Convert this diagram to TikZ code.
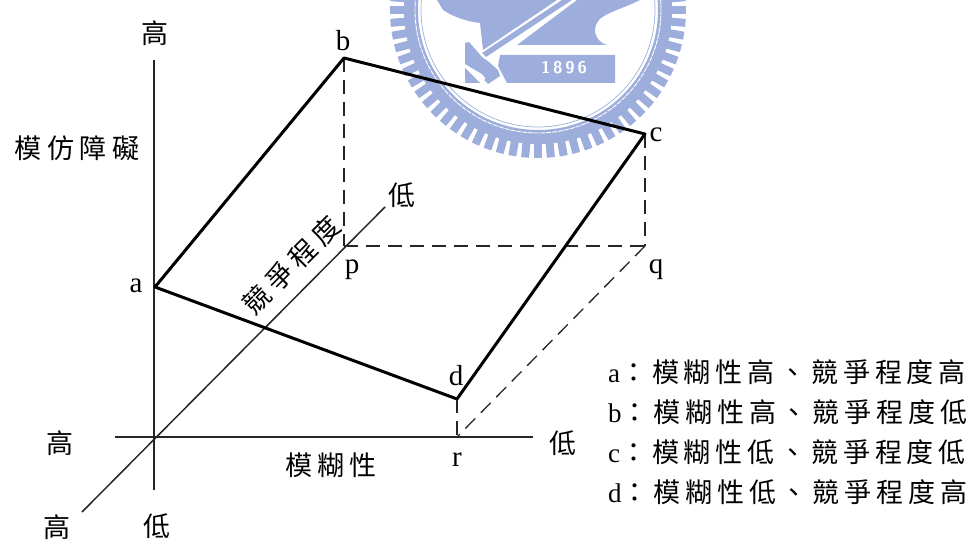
\documentclass[tikz,border=0pt]{standalone}
\usepackage{fontspec}
\setmainfont{Liberation Serif}
\newfontfamily\cjk[LetterSpace=20]{Noto Sans CJK TC}
\newfontfamily\cjkwide[LetterSpace=18]{Noto Sans CJK TC}
\usetikzlibrary{positioning}
\definecolor{crest}{HTML}{9DAEDC}
\tikzset{
  lbl/.style={font=\fontsize{29}{30}\selectfont,inner sep=0pt},
  zh/.style={font=\fontsize{27}{30}\selectfont\cjk,inner sep=0pt},
  legend/.style={anchor=west,font=\fontsize{27}{30}\selectfont\cjkwide,inner sep=0pt},
  axisline/.style={line width=1.5pt,color=black!85},
  face/.style={line width=3pt,line join=round},
  drop/.style={line width=1.3pt,dash pattern=on 14pt off 8pt,color=black!85}
}
\begin{document}
\begin{tikzpicture}[x=1pt,y=-1pt]
  \useasboundingbox (0,0) rectangle (977,540);
  % crest behind the diagram
  \begin{scope}
    \clip (0,0) rectangle (977,540);
    \foreach \t in {0,5,...,355} \draw[crest,line width=8pt] (538,10)++(\t:130) -- ++(\t:18);
    \draw[crest,line width=14pt] (538,10) circle (127);
    \draw[white,line width=.9pt,dash pattern=on 5pt off 1pt] (538,10) circle (123);
    \draw[crest,line width=.7pt] (538,10) circle (117);
    \fill[crest] (437,0) -- (443,10) .. controls (455,18) and (470,22) .. (480,23) -- (483,50) -- (557,0) -- cycle;
    \fill[crest] (562,0) -- (572,0) -- (486,57) -- (482,53) -- cycle;
    \fill[crest] (517,45) -- (577,0) -- (640,0) .. controls (625,8) and (600,14) .. (597,23)
      .. controls (592,32) and (597,42) .. (607,45) -- cycle;
    \fill[crest] (465,43) -- (469,42) -- (482,57) -- (489,62) -- (498,70) -- (500,76) -- (488,84) -- (484,80) -- (494,72) -- (486,79) -- (482,74) -- (465,64) -- cycle;
    \fill[crest] (465,68) -- (480,83) -- (465,83) -- cycle;
    \fill[crest] (500,55) -- (615,55) -- (615,83) -- (507,83) -- (498,66) -- cycle;
    \node[inner sep=0pt,text=white,font=\fontsize{17}{17}\selectfont\bfseries\sffamily] (year) at (564,68) {1\,8\,9\,6};
  \end{scope}
  % corner points
  \coordinate (o) at (154,437);
  \coordinate (a) at (155,287);
  \coordinate (b) at (344,58);
  \coordinate (c) at (645,134);
  \coordinate (d) at (457,399);
  \coordinate (p) at (344,246);
  \coordinate (q) at (645,246);
  \coordinate (r) at (457,437);
  \coordinate (vtop) at (154,60);
  \coordinate (vbot) at (154,490);
  \coordinate (hleft) at (115,437);
  \coordinate (hright) at (533,437);
  \coordinate (dlow) at (82,512);
  \coordinate (dhigh) at (385,207);
  % axes
  \draw[axisline] (vtop)--(vbot);
  \draw[axisline] (hleft)--(hright);
  \draw[axisline] (dlow)--(dhigh);
  % dashed projections
  \draw[drop] (b)--(p); \draw[drop] (c)--(q); \draw[drop] (d)--(r);
  \draw[drop] (p)--(q); \draw[drop] (q)--(r);
  % surface
  \draw[face] (a)--(b)--(c)--(d)--cycle;
  % labels
  \node[lbl] (la) at (136,286) {a};
  \node[lbl] (lb) at (343,41) {b};
  \node[lbl] (lc) at (656,135) {c};
  \node[lbl] (ld) at (456,376) {d};
  \node[lbl] (lp) at (352,270) {p};
  \node[lbl] (lq) at (656,270) {q};
  \node[lbl] (lr) at (457,460) {r};
  \node[zh] (ztop) at (155,33) {高};
  \node[zh] (imit) at (77,148) {模仿障礙};
  \node[zh] (dlo) at (402,195) {低};
  \node[zh,rotate=45] (comp) at (291,265) {競爭程度};
  \node[zh] (hhi) at (60,443) {高};
  \node[zh] (hlo) at (563,443) {低};
  \node[zh] (ambi) at (331,465) {模糊性};
  \node[zh] (dhi) at (57,527) {高};
  \node[zh] (vlo) at (157,526) {低};
  % key
  \node[legend] (keya) at (608,372) {{\rmfamily a}：模糊性高、競爭程度高};
  \node[legend] (keyb) at (608,412) {{\rmfamily b}：模糊性高、競爭程度低};
  \node[legend] (keyc) at (608,452) {{\rmfamily c}：模糊性低、競爭程度低};
  \node[legend] (keyd) at (608,492) {{\rmfamily d}：模糊性低、競爭程度高};
\end{tikzpicture}
\end{document}
